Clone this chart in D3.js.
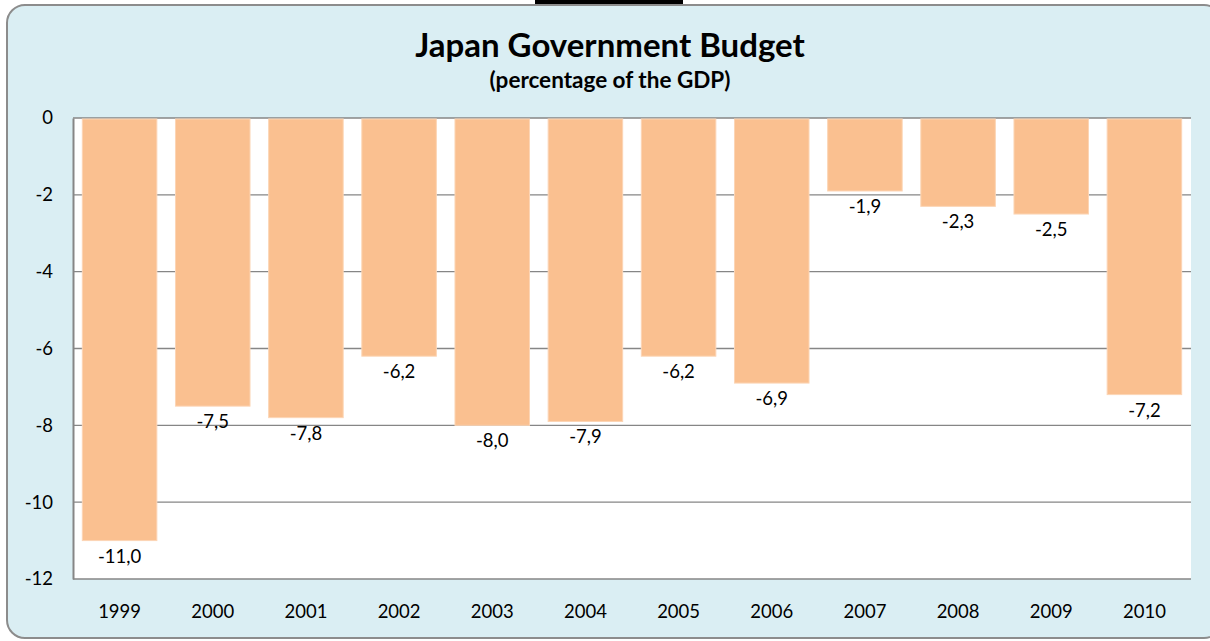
<!DOCTYPE html>
<html>
<head>
<meta charset="utf-8">
<script src="https://cdn.jsdelivr.net/npm/d3@7"></script>
<style>
  body { margin: 0; background: #fff; }
  svg { display: block; font-family: Lato, "Open Sans", sans-serif; }
</style>
</head>
<body>
<svg id="chart" width="1210" height="641"></svg>
<script>
// Data
const years = ['1999', '2000', '2001', '2002', '2003', '2004', '2005', '2006', '2007', '2008', '2009', '2010'];
const budget = [-11.0, -7.5, -7.8, -6.2, -8.0, -7.9, -6.2, -6.9, -1.9, -2.3, -2.5, -7.2];
const yTicks = [0, -2, -4, -6, -8, -10, -12];

const svg = d3.select('#chart');

// stray black bar at very top
svg.append('rect')
    .attr('x', 535).attr('y', 0)
    .attr('width', 148).attr('height', 4)
    .attr('fill', '#000');

// chart panel
svg.append('rect')
    .attr('x', 7).attr('y', 5)
    .attr('width', 1215).attr('height', 633)
    .attr('rx', 18).attr('ry', 18)
    .attr('fill', '#daeef3')
    .attr('stroke', '#8c8c8c')
    .attr('stroke-width', 2);

// titles
svg.append('text')
    .attr('x', 610).attr('y', 57)
    .attr('text-anchor', 'middle')
    .attr('font-weight', 'bold')
    .attr('font-size', 33)
    .attr('fill', '#000')
    .text('Japan Government Budget');
svg.append('text')
    .attr('x', 610).attr('y', 88)
    .attr('text-anchor', 'middle')
    .attr('font-weight', 'bold')
    .attr('font-size', 22.5)
    .attr('fill', '#000')
    .text('(percentage of the GDP)');

const plot = { left: 73, top: 118, right: 1191, bottom: 579 };

const x = d3.scaleBand()
    .domain(years)
    .range([plot.left, plot.right])
    .paddingInner(0.2)
    .paddingOuter(0.1);

const y = d3.scaleLinear()
    .domain([0, -12])
    .range([plot.top, plot.bottom]);

// plot area
svg.append('rect')
    .attr('x', plot.left).attr('y', plot.top)
    .attr('width', plot.right - plot.left)
    .attr('height', plot.bottom - plot.top)
    .attr('fill', '#fff');

// gridlines
svg.append('g')
    .selectAll('line')
    .data(yTicks)
    .join('line')
    .attr('x1', plot.left).attr('x2', plot.right)
    .attr('y1', d => y(d)).attr('y2', d => y(d))
    .attr('stroke', '#868686')
    .attr('stroke-width', 1.3);

// y axis
const yAxis = svg.append('g')
    .attr('transform', `translate(${plot.left},0)`)
    .call(d3.axisLeft(y).tickValues(yTicks).tickSize(0).tickPadding(20)
        .tickFormat(d => String(d)));
yAxis.select('.domain').attr('stroke', '#868686').attr('stroke-width', 2);
yAxis.selectAll('text')
    .attr('font-family', 'Lato, sans-serif')
    .attr('font-size', 18.5)
    .attr('fill', '#000');

// x axis labels
const xAxis = svg.append('g')
    .attr('transform', `translate(0,${plot.bottom})`)
    .call(d3.axisBottom(x).tickSize(0).tickPadding(26));
xAxis.select('.domain').remove();
xAxis.selectAll('text')
    .attr('font-family', 'Lato, sans-serif')
    .attr('font-size', 18.5)
    .attr('fill', '#000');

// bars
svg.append('g')
    .selectAll('rect')
    .data(budget)
    .join('rect')
    .attr('x', (d, i) => x(years[i]))
    .attr('y', y(0) + 1)
    .attr('width', x.bandwidth())
    .attr('height', d => y(d) - y(0) - 1)
    .attr('fill', '#fac090')
    .attr('stroke', '#fcd5b5')
    .attr('stroke-width', 1);

// value labels
const fmt = d => d3.format('.1f')(d).replace('.', ',').replace('−', '-');
svg.append('g')
    .selectAll('text')
    .data(budget)
    .join('text')
    .attr('x', (d, i) => x(years[i]) + x.bandwidth() / 2)
    .attr('y', d => y(d) + 22)
    .attr('text-anchor', 'middle')
    .attr('font-size', 18.5)
    .attr('fill', '#000')
    .text(fmt);
</script>
</body>
</html>
